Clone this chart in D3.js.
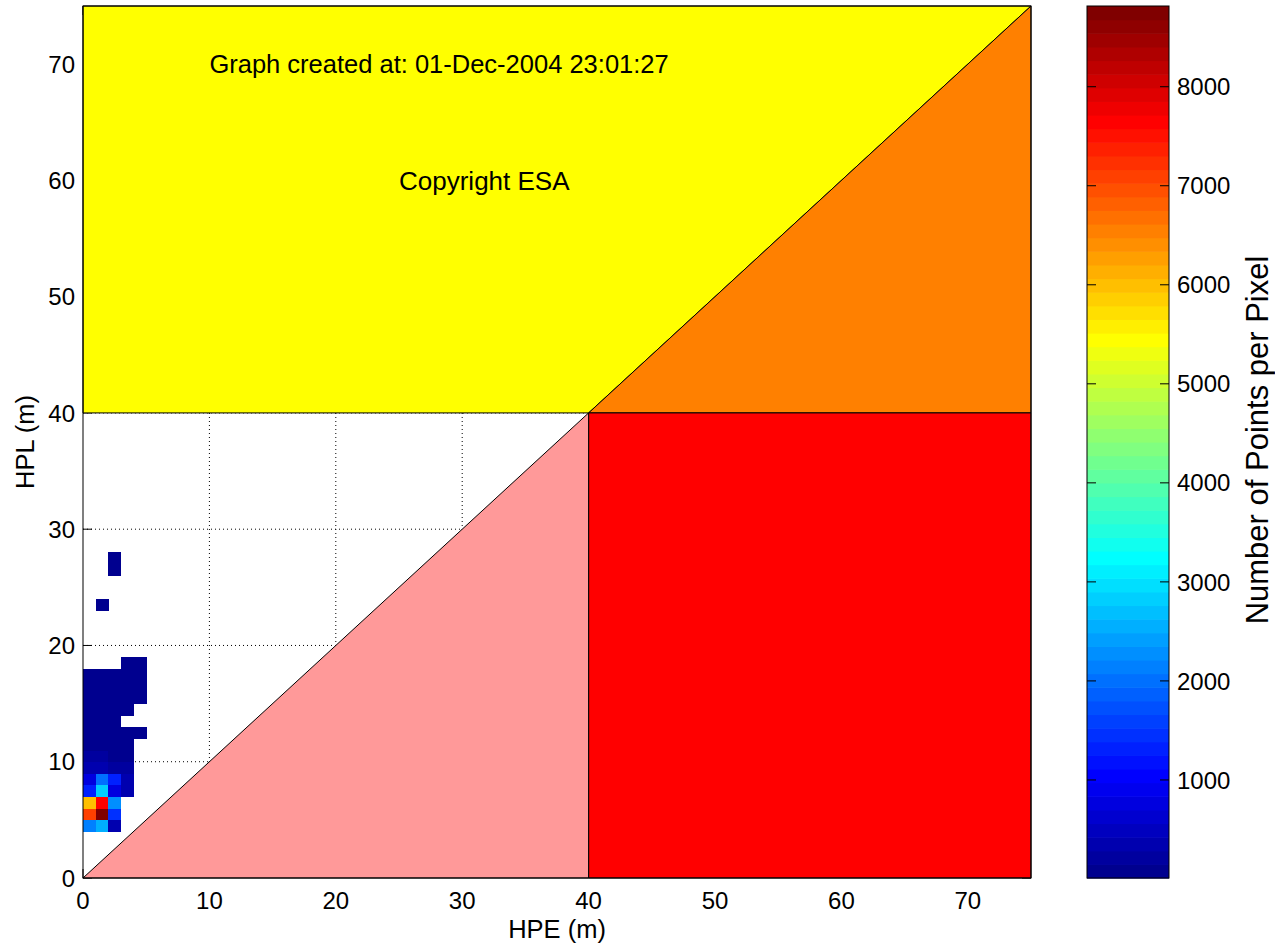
<!DOCTYPE html>
<html>
<head>
<meta charset="utf-8">
<script src="https://cdn.jsdelivr.net/npm/d3@7"></script>
<style>
  html, body { margin: 0; padding: 0; background: #fff; }
  text { font-family: "Liberation Sans", Arial, Helvetica, sans-serif; fill: #000; }
</style>
</head>
<body>
<svg id="chart" width="1275" height="946"></svg>
<script>
// ---------------- data ----------------
const xTicks = [0, 10, 20, 30, 40, 50, 60, 70];
const yTicks = [0, 10, 20, 30, 40, 50, 60, 70];
const cbTicks = [1000, 2000, 3000, 4000, 5000, 6000, 7000, 8000];
const axisMax = 75;
const alertLimit = 40;

// 1 m x 1 m histogram bins: lower-left corner (HPE, HPL) and count
const binHPE = [
  0, 1, 2,
  0, 1, 2,
  0, 1, 2,
  0, 1, 2, 3,
  0, 1, 2, 3,
  0, 1, 2, 3,
  0, 1, 2, 3,
  0, 1, 2, 3,
  0, 1, 2, 3, 4,
  0, 1, 2,
  0, 1, 2, 3,
  0, 1, 2, 3, 4,
  0, 1, 2, 3, 4,
  0, 1, 2, 3, 4,
  3, 4,
  1,
  2, 2
];
const binHPL = [
  4, 4, 4,
  5, 5, 5,
  6, 6, 6,
  7, 7, 7, 7,
  8, 8, 8, 8,
  9, 9, 9, 9,
  10, 10, 10, 10,
  11, 11, 11, 11,
  12, 12, 12, 12, 12,
  13, 13, 13,
  14, 14, 14, 14,
  15, 15, 15, 15, 15,
  16, 16, 16, 16, 16,
  17, 17, 17, 17, 17,
  18, 18,
  23,
  26, 27
];
const binCount = [
  2100, 2600, 420,
  7150, 8815, 1400,
  6050, 7650, 2250,
  1350, 2850, 800, 380,
  720, 1950, 1300, 380,
  300, 290, 200, 150,
  150, 160, 120, 90,
  110, 120, 100, 80,
  100, 110, 90, 60, 30,
  80, 90, 60,
  70, 80, 60, 40,
  60, 70, 50, 40, 20,
  50, 50, 40, 30, 20,
  40, 40, 30, 20, 15,
  15, 12,
  10,
  11, 10
];

// ---------------- jet colormap (64 levels, MATLAB style) ----------------
function jet(m) {
  const n = Math.ceil(m / 4);
  const u = [];
  for (let i = 1; i <= n; i++) u.push(i / n);
  for (let i = 1; i < n; i++) u.push(1);
  for (let i = n; i >= 1; i--) u.push(i / n);
  const g0 = Math.ceil(n / 2) - (m % 4 === 1 ? 1 : 0);
  const J = d3.range(m).map(() => [0, 0, 0]);
  u.forEach((val, k) => {
    const g = g0 + k + 1, r = g + n, b = g - n;
    if (r >= 1 && r <= m) J[r - 1][0] = val;
    if (g >= 1 && g <= m) J[g - 1][1] = val;
    if (b >= 1 && b <= m) J[b - 1][2] = val;
  });
  return J.map(c => d3.rgb(c[0] * 255, c[1] * 255, c[2] * 255).formatHex());
}
const jetColors = jet(64);
const cMin = d3.min(binCount), cMax = d3.max(binCount);
function colorOf(v) {
  let idx = Math.floor((v - cMin) / (cMax - cMin) * 64);
  idx = Math.max(0, Math.min(63, idx));
  return jetColors[idx];
}

// ---------------- layout ----------------
const svg = d3.select("#chart");
const x = d3.scaleLinear().domain([0, axisMax]).range([83, 1031]);
const y = d3.scaleLinear().domain([0, axisMax]).range([878, 6]);
const FS = 24;     // tick labels
const FL = 25.5;   // axis labels / annotations

svg.append("rect").attr("width", 1275).attr("height", 946).attr("fill", "#fff");

// grid (dotted, under patches)
const grid = svg.append("g");
grid.selectAll("line.gx").data(xTicks.filter(t => t > 0)).join("line")
  .attr("x1", d => x(d)).attr("x2", d => x(d)).attr("y1", y(0)).attr("y2", y(axisMax))
  .attr("stroke", "#000").attr("stroke-width", 1).attr("stroke-dasharray", "1,3");
grid.selectAll("line.gy").data(yTicks.filter(t => t > 0)).join("line")
  .attr("y1", d => y(d)).attr("y2", d => y(d)).attr("x1", x(0)).attr("x2", x(axisMax))
  .attr("stroke", "#000").attr("stroke-width", 1).attr("stroke-dasharray", "1,3");

// ticks (inward, under patches)
const tl = 9;
const ticks = svg.append("g").attr("stroke", "#000").attr("stroke-width", 1);
xTicks.forEach(t => {
  ticks.append("line").attr("x1", x(t)).attr("x2", x(t)).attr("y1", y(0)).attr("y2", y(0) - tl);
  ticks.append("line").attr("x1", x(t)).attr("x2", x(t)).attr("y1", y(axisMax)).attr("y2", y(axisMax) + tl);
});
yTicks.forEach(t => {
  ticks.append("line").attr("y1", y(t)).attr("y2", y(t)).attr("x1", x(0)).attr("x2", x(0) + tl);
  ticks.append("line").attr("y1", y(t)).attr("y2", y(t)).attr("x1", x(axisMax)).attr("x2", x(axisMax) - tl);
});

// Stanford-diagram regions
const A = alertLimit, M = axisMax;
const regions = [
  { pts: [[0, A], [0, M], [M, M], [A, A]], fill: "#ffff00" },   // system unavailable
  { pts: [[A, A], [M, M], [M, A]], fill: "#ff8000" },           // unavailable + misleading
  { pts: [[A, 0], [M, 0], [M, A], [A, A]], fill: "#ff0000" },   // hazardous
  { pts: [[0, 0], [A, A], [A, 0]], fill: "#ff9999" }            // misleading information
];
const line = d3.line().x(d => x(d[0])).y(d => y(d[1]));
svg.append("g").selectAll("path").data(regions).join("path")
  .attr("d", d => line(d.pts) + "Z")
  .attr("fill", d => d.fill)
  .attr("stroke", "#000").attr("stroke-width", 1).attr("stroke-linejoin", "miter");

// histogram cells
const cells = binHPE.map((h, i) => ({ h, l: binHPL[i], c: binCount[i] }));
svg.append("g").selectAll("rect").data(cells).join("rect")
  .attr("x", d => x(d.h))
  .attr("y", d => y(d.l + 1))
  .attr("width", d => x(d.h + 1) - x(d.h) + 0.5)
  .attr("height", d => y(d.l) - y(d.l + 1) + 0.5)
  .attr("fill", d => colorOf(d.c))
  .attr("shape-rendering", "crispEdges");

// axes box
svg.append("rect")
  .attr("x", x(0)).attr("y", y(M)).attr("width", x(M) - x(0)).attr("height", y(0) - y(M))
  .attr("fill", "none").attr("stroke", "#000").attr("stroke-width", 1);

// tick labels
svg.append("g").selectAll("text").data(xTicks).join("text")
  .attr("x", d => x(d)).attr("y", 909)
  .attr("text-anchor", "middle").attr("font-size", FS).text(d => d);
svg.append("g").selectAll("text").data(yTicks).join("text")
  .attr("x", 75).attr("y", d => y(d)).attr("dy", "0.36em")
  .attr("text-anchor", "end").attr("font-size", FS).text(d => d);

// axis labels
svg.append("text").attr("x", (x(0) + x(M)) / 2).attr("y", 938)
  .attr("text-anchor", "middle").attr("font-size", FL).text("HPE (m)");
svg.append("text").attr("transform", `translate(34,${(y(0) + y(M)) / 2}) rotate(-90)`)
  .attr("text-anchor", "middle").attr("font-size", FL).text("HPL (m)");

// annotations
svg.append("text").attr("x", x(10)).attr("y", y(70)).attr("dy", "0.36em")
  .attr("font-size", FL).text("Graph created at: 01-Dec-2004 23:01:27");
svg.append("text").attr("x", x(25)).attr("y", y(60)).attr("dy", "0.36em")
  .attr("font-size", 26).text("Copyright ESA");

// ---------------- colorbar ----------------
const cbX0 = 1087, cbX1 = 1169;
const cb = d3.scaleLinear().domain([cMin, cMax]).range([878, 6]);
const step = (cMax - cMin) / 64;
svg.append("g").selectAll("rect").data(jetColors).join("rect")
  .attr("x", cbX0).attr("width", cbX1 - cbX0)
  .attr("y", (d, i) => cb(cMin + (i + 1) * step))
  .attr("height", (d, i) => cb(cMin + i * step) - cb(cMin + (i + 1) * step) + 0.6)
  .attr("fill", d => d);
svg.append("rect").attr("x", cbX0).attr("y", cb(cMax)).attr("width", cbX1 - cbX0)
  .attr("height", cb(cMin) - cb(cMax)).attr("fill", "none").attr("stroke", "#000").attr("stroke-width", 1);
const cbt = svg.append("g").attr("stroke", "#000").attr("stroke-width", 1);
cbTicks.forEach(t => {
  cbt.append("line").attr("x1", cbX0).attr("x2", cbX0 + 9).attr("y1", cb(t)).attr("y2", cb(t));
  cbt.append("line").attr("x1", cbX1 - 9).attr("x2", cbX1).attr("y1", cb(t)).attr("y2", cb(t));
});
svg.append("g").selectAll("text").data(cbTicks).join("text")
  .attr("x", 1177).attr("y", d => cb(d)).attr("dy", "0.36em")
  .attr("font-size", FS).text(d => d);
svg.append("text").attr("transform", `translate(1268,440) rotate(-90)`)
  .attr("text-anchor", "middle").attr("font-size", 31).text("Number of Points per Pixel");
</script>
</body>
</html>
